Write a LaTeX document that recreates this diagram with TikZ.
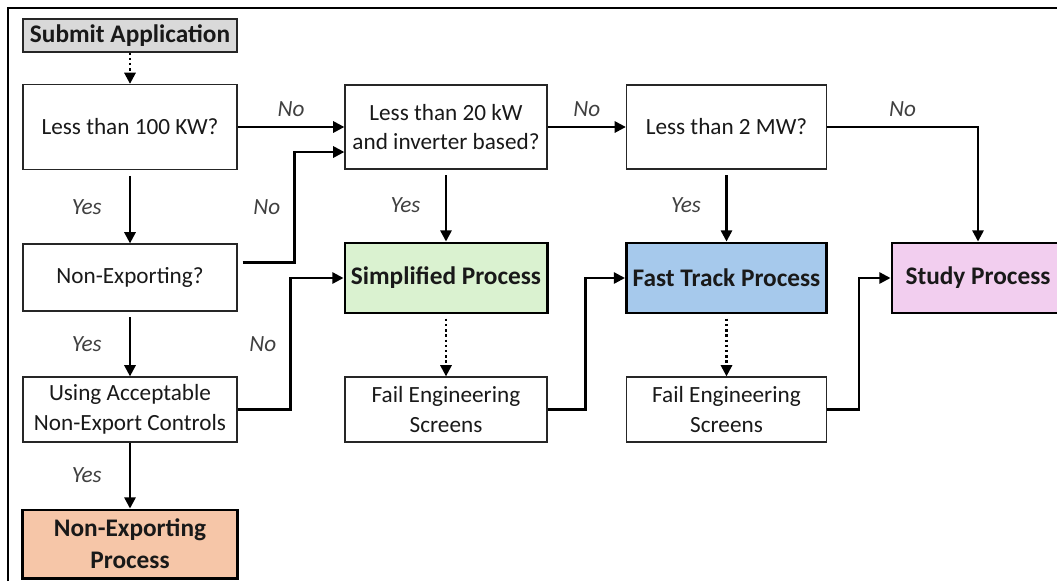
\documentclass[tikz,border=0pt]{standalone}
\usepackage{fontspec}
\setmainfont{Carlito}
\usetikzlibrary{arrows.meta,calc}

\definecolor{submitgray}{HTML}{D9D9D9}
\definecolor{nonexpfill}{HTML}{F6C6A8}
\definecolor{simpfill}{HTML}{DAF2D0}
\definecolor{fastfill}{HTML}{A6C9EC}
\definecolor{studyfill}{HTML}{F2CEEF}
\definecolor{labelgray}{HTML}{404040}

\tikzset{
	box/.style={draw=black!85, line width=0.9pt, fill=white, align=center, inner sep=2pt,
		font=\fontsize{16.5}{21}\selectfont, text=black!90},
	procbox/.style={box, draw=black, line width=2.1pt, font=\fontsize{18}{23}\selectfont\bfseries},
	arr/.style={line width=1.7pt, -{Triangle[length=2.8mm, width=2.8mm]}},
	dotarr/.style={arr, dotted},
	lbl/.style={font=\fontsize{16.5}{20}\selectfont\itshape, text=labelgray}
}

\begin{document}
\begin{tikzpicture}[x=0.025cm, y=-0.025cm]

	\useasboundingbox (0,0) rectangle (1057,581);

	% outer frame
	\draw[line width=2pt] (8,581) -- (8,8) -- (1057,8);

	% left column
	\node[box, fill=submitgray, minimum width=5.35cm, minimum height=0.825cm, font=\fontsize{18}{22}\selectfont\bfseries] (submit) at (130, 35.5) {Submit Application};
	\node[box, minimum width=5.35cm, minimum height=2.125cm] (q100) at (130, 127) {Less than 100 KW?};
	\node[box, minimum width=5.35cm, minimum height=1.675cm] (qnon) at (130, 277.5) {Non-Exporting?};
	\node[box, minimum width=5.35cm, minimum height=1.625cm] (qctrl) at (130, 409.5) {Using Acceptable\\Non-Export Controls};
	\node[procbox, fill=nonexpfill, minimum width=5.35cm, minimum height=1.7cm] (pnon) at (130, 544) {Non-Exporting\\Process};

	% middle column
	\node[box, minimum width=5.05cm, minimum height=2.1cm] (q20) at (446, 127) {Less than 20 kW\\and inverter based?};
	\node[procbox, fill=simpfill, minimum width=5.05cm, minimum height=1.75cm] (psimp) at (446, 278) {Simplified Process};
	\node[box, minimum width=5.05cm, minimum height=1.625cm] (fail1) at (446, 409.5) {Fail Engineering\\Screens};

	% right column
	\node[box, minimum width=5cm, minimum height=2.1cm] (q2) at (726.5, 127) {Less than 2 MW?};
	\node[procbox, fill=fastfill, minimum width=5cm, minimum height=1.75cm] (pfast) at (726.5, 278) {Fast Track Process};
	\node[box, minimum width=5cm, minimum height=1.625cm] (fail2) at (726.5, 409.5) {Fail Engineering\\Screens};

	\node[procbox, fill=studyfill, minimum width=4.3cm, minimum height=1.75cm] (pstudy) at (978, 278) {Study Process};

	% decisions
	\draw[dotarr] (submit) -- (q100);
	\draw[arr] (q100) -- (q20) node[midway, above=3pt, lbl] {No};
	\draw[arr, shorten <=4pt] (q100) -- (qnon) node[midway, left=16pt, lbl] {Yes};
	\draw[arr] ($(qnon.east)+(5,-15)$) -- ++(52,0) |- ($(q20.west)+(0,25)$) node[pos=0.25, left=6pt, lbl] {No};
	\draw[arr, shorten <=4pt] (qnon) -- (qctrl) node[midway, left=16pt, lbl] {Yes};
	\draw[arr] (qctrl.east) -- ++(53,0) |- (psimp.west) node[pos=0.25, left=6pt, lbl] {No};
	\draw[arr] (qctrl) -- (pnon) node[midway, left=16pt, lbl] {Yes};
	\draw[arr, shorten <=4pt] (q20) -- (psimp) node[midway, left=14pt, lbl] {Yes};
	\draw[arr] (q20) -- (q2) node[midway, above=3pt, lbl] {No};
	\draw[arr, shorten <=4pt] (q2) -- (pfast) node[midway, left=14pt, lbl] {Yes};
	\draw[arr] (q2.east) -| (pstudy.north) node[pos=0.25, above=3pt, lbl] {No};

	% failed screens
	\draw[dotarr, shorten <=3pt] (psimp) -- (fail1);
	\draw[dotarr, shorten <=3pt] (pfast) -- (fail2);
	\draw[arr] (fail1.east) -- ++(38,0) |- (pfast.west);
	\draw[arr] (fail2.east) -- ++(32,0) |- (pstudy.west);

\end{tikzpicture}
\end{document}
